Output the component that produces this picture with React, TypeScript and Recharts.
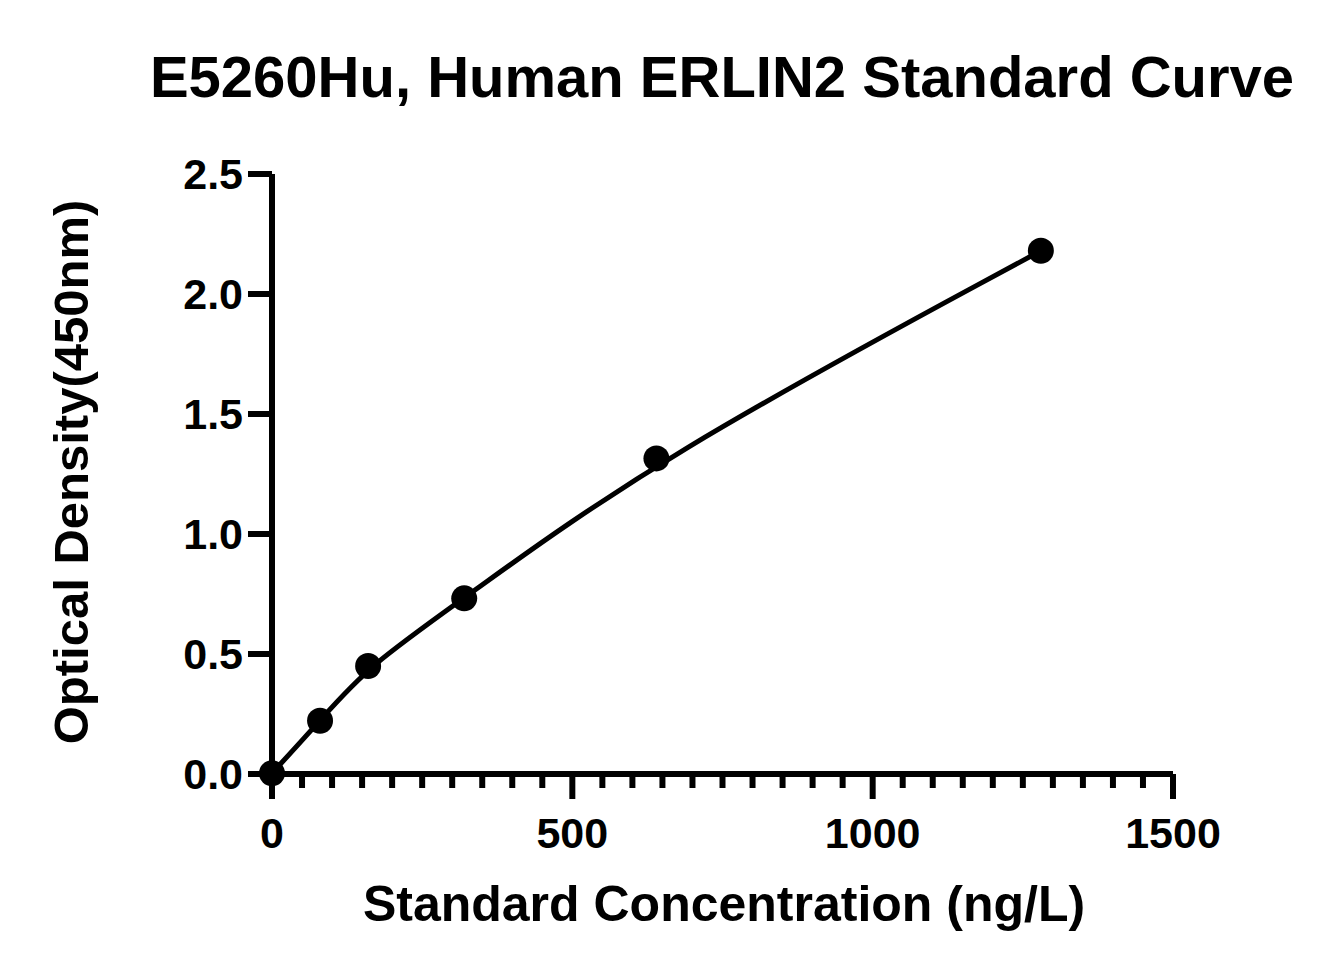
import React from "react";
import { LineChart, Line, XAxis, YAxis } from "recharts";

const FONT = "'Liberation Sans', Arial, Helvetica, sans-serif";

// Standard concentrations (ng/L) and measured optical density at 450nm
const CONCENTRATION = [0, 80, 160, 320, 640, 1280];
const OPTICAL_DENSITY = [0.003, 0.222, 0.45, 0.732, 1.315, 2.18];

const X_TICKS = [
  0, 50, 100, 150, 200, 250, 300, 350, 400, 450, 500, 550, 600, 650, 700, 750,
  800, 850, 900, 950, 1000, 1050, 1100, 1150, 1200, 1250, 1300, 1350, 1400,
  1450, 1500,
];
const X_LABELED = [0, 500, 1000, 1500];
const Y_TICKS = [0, 0.5, 1, 1.5, 2, 2.5];

const TITLE = "E5260Hu, Human ERLIN2 Standard Curve";
const X_TITLE = "Standard Concentration (ng/L)";
const Y_TITLE = "Optical Density(450nm)";

const data = CONCENTRATION.map((x, i) => ({ x, y: OPTICAL_DENSITY[i] }));

const XTick = (props: any) => {
  const { x, y, payload } = props;
  const major = X_LABELED.includes(payload.value);
  return (
    <g>
      <line
        x1={x}
        y1={y}
        x2={x}
        y2={y + (major ? 25 : 14)}
        stroke="#000"
        strokeWidth={6}
      />
      {major && (
        <text
          x={x}
          y={y + 74}
          textAnchor="middle"
          fontFamily={FONT}
          fontWeight="bold"
          fontSize={43}
          fill="#000"
        >
          {payload.value}
        </text>
      )}
    </g>
  );
};

const YTick = (props: any) => {
  const { x, y, payload } = props;
  return (
    <g>
      <line x1={x - 24} y1={y} x2={x} y2={y} stroke="#000" strokeWidth={6} />
      <text
        x={x - 29}
        y={y + 15}
        textAnchor="end"
        fontFamily={FONT}
        fontWeight="bold"
        fontSize={43}
        fill="#000"
      >
        {payload.value.toFixed(1)}
      </text>
    </g>
  );
};

export default function App() {
  return (
    <div
      style={{
        position: "absolute",
        left: 0,
        top: 0,
        width: 1335,
        height: 975,
        background: "#fff",
      }}
    >
      <LineChart
        width={1335}
        height={975}
        data={data}
        margin={{ top: 174, right: 162, bottom: 141, left: 212 }}
      >
        <XAxis
          type="number"
          dataKey="x"
          domain={[0, 1500]}
          ticks={X_TICKS}
          interval={0}
          height={60}
          tickSize={0}
          tickMargin={0}
          tickLine={false}
          tick={<XTick />}
          axisLine={{ stroke: "#000", strokeWidth: 6 }}
        />
        <YAxis
          type="number"
          domain={[0, 2.5]}
          ticks={Y_TICKS}
          interval={0}
          width={60}
          tickSize={0}
          tickMargin={0}
          tickLine={false}
          tick={<YTick />}
          axisLine={{ stroke: "#000", strokeWidth: 6 }}
        />
        {/* fitted curve drawn as a smooth spline through the standards */}
        <Line
          dataKey="y"
          type="basis"
          stroke="#000"
          strokeWidth={5}
          dot={{ r: 13, fill: "#000", stroke: "#000", strokeWidth: 0 }}
          activeDot={false}
          isAnimationActive={false}
        />
      </LineChart>
      <svg
        width={1335}
        height={975}
        style={{ position: "absolute", left: 0, top: 0, pointerEvents: "none" }}
      >
        <text
          x={722}
          y={97}
          textAnchor="middle"
          fontFamily={FONT}
          fontWeight="bold"
          fontSize={58}
          fill="#000"
        >
          {TITLE}
        </text>
        <text
          x={724}
          y={921}
          textAnchor="middle"
          fontFamily={FONT}
          fontWeight="bold"
          fontSize={50}
          fill="#000"
        >
          {X_TITLE}
        </text>
        <text
          transform="translate(88, 472) rotate(-90)"
          textAnchor="middle"
          fontFamily={FONT}
          fontWeight="bold"
          fontSize={49}
          fill="#000"
        >
          {Y_TITLE}
        </text>
      </svg>
    </div>
  );
}
